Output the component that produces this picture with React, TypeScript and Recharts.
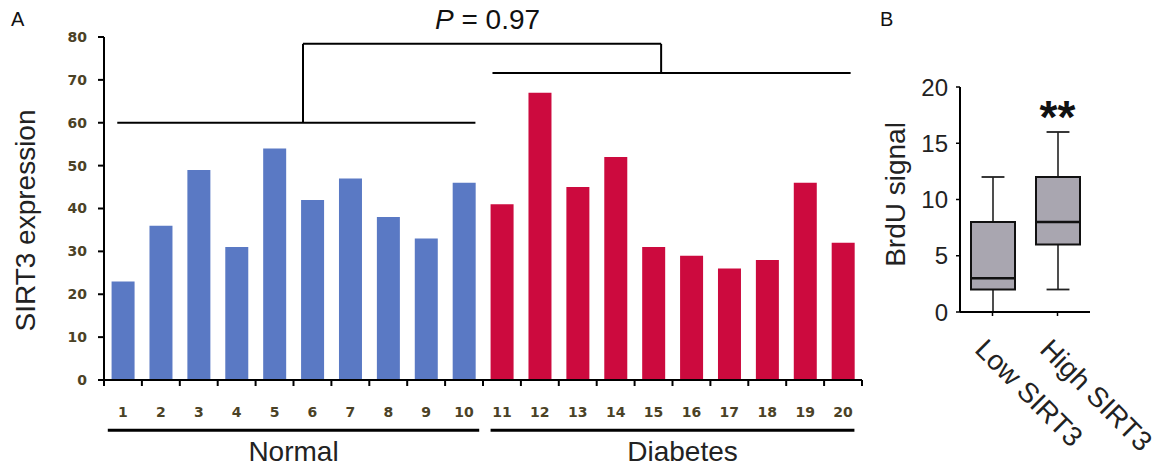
import { BarChart, Bar, XAxis, YAxis, Cell, ReferenceLine, ReferenceDot } from "recharts";

// Panel A: SIRT3 expression per sample
const sampleIds = ["1", "2", "3", "4", "5", "6", "7", "8", "9", "10", "11", "12", "13", "14", "15", "16", "17", "18", "19", "20"];
const normalValues = [23, 36, 49, 31, 54, 42, 47, 38, 33, 46];
const diabetesValues = [41, 67, 45, 52, 31, 29, 26, 28, 46, 32];
const sirt3Ticks = [0, 10, 20, 30, 40, 50, 60, 70, 80];
const sampleEdges = [0, 1, 2, 3, 4, 5, 6, 7, 8, 9, 10, 11, 12, 13, 14, 15, 16, 17, 18, 19, 20];

// bracket + group underline annotations (x in sample units, y in expression units)
const groupBars = [
  { name: "Normal", from: 0.35, to: 9.8, level: 60 },
  { name: "Diabetes", from: 10.25, to: 19.7, level: 71.6 },
];
const pBracket = { left: 5.25, right: 14.7, top: 78.4 };
const groupUnderlines = [
  { name: "Normal", from: 0.1, to: 9.9 },
  { name: "Diabetes", from: 10.2, to: 19.8 },
];
const underlineLevel = -11.7;

// Panel B: BrdU box plot
const brduGroups = ["Low SIRT3", "High SIRT3"];
const brduMin = [0, 2];
const brduQ1 = [2, 6];
const brduMedian = [3, 8];
const brduQ3 = [8, 12];
const brduMax = [12, 16];
const brduTicks = [0, 5, 10, 15, 20];

const BLUE = "#5a79c4";
const RED = "#cc0a3e";
const SANS = "Liberation Sans, Arial, sans-serif";
const TICK_FONT = "DejaVu Sans, Verdana, sans-serif";
const TICK_INK = "#4b4226";

const sirt3Data = sampleIds.map((id, i) => ({
  id,
  value: i < normalValues.length ? normalValues[i] : diabetesValues[i - normalValues.length],
  group: i < normalValues.length ? "Normal" : "Diabetes",
}));

const brduData = brduGroups.map((group, i) => ({
  group,
  range: [brduMin[i], brduMax[i]],
  min: brduMin[i],
  q1: brduQ1[i],
  median: brduMedian[i],
  q3: brduQ3[i],
  max: brduMax[i],
}));

const lineStyle = { stroke: "#000", strokeWidth: 2 };

function NoLabel() {
  return <g />;
}

function BoxShape(props: any) {
  const { x, y, width, height, payload } = props;
  const { min, max, q1, median, q3 } = payload;
  const top = Math.min(y, y + height);
  const span = Math.abs(height);
  const toY = (v: number) => top + (span * (max - v)) / (max - min);
  const cx = x + width / 2;
  const cap = width * 0.26;
  return (
    <g>
      <line x1={cx} x2={cx} y1={toY(max)} y2={toY(q3)} stroke="#222" strokeWidth={1.6} />
      <line x1={cx} x2={cx} y1={toY(q1)} y2={toY(min)} stroke="#222" strokeWidth={1.6} />
      <line x1={cx - cap} x2={cx + cap} y1={toY(max)} y2={toY(max)} stroke="#222" strokeWidth={1.8} />
      <line x1={cx - cap} x2={cx + cap} y1={toY(min)} y2={toY(min)} stroke="#222" strokeWidth={1.8} />
      <rect x={x} y={toY(q3)} width={width} height={toY(q1) - toY(q3)} fill="#a9a6b0" stroke="#111" strokeWidth={2} />
      <line x1={x} x2={x + width} y1={toY(median)} y2={toY(median)} stroke="#111" strokeWidth={2.5} />
    </g>
  );
}

function SlantTick({ x, y, payload }: any) {
  return (
    <g transform={`translate(${x - 19},${y + 33}) rotate(45)`}>
      <text x={0} y={0} textAnchor="start" fontSize={28} fontFamily={SANS} fill="#222">
        {payload.value}
      </text>
    </g>
  );
}

function PanelA() {
  return (
    <BarChart
      width={870}
      height={469}
      data={sirt3Data}
      margin={{ top: 37, right: 8, bottom: 41, left: 24 }}
      barCategoryGap="20%"
    >
      {/* numeric axis: tick marks sit on sample boundaries, also carries the brackets */}
      <XAxis
        xAxisId={0}
        type="number"
        dataKey={(d: any) => Number(d.id)}
        domain={[0, 20]}
        ticks={sampleEdges}
        interval={0}
        allowDataOverflow
        tick={<NoLabel />}
        height={8}
        tickSize={6}
        axisLine={lineStyle}
        tickLine={lineStyle}
      />
      <XAxis
        xAxisId={1}
        dataKey="id"
        interval={0}
        height={40}
        axisLine={false}
        tickLine={false}
        tickMargin={13}
        tick={{ fill: TICK_INK, fontSize: 14, fontWeight: 700, fontFamily: TICK_FONT }}
      />
      <YAxis
        domain={[0, 80]}
        ticks={sirt3Ticks}
        interval={0}
        width={80}
        tickSize={6}
        tickMargin={11}
        axisLine={lineStyle}
        tickLine={lineStyle}
        tick={{ fill: TICK_INK, fontSize: 14, fontWeight: 700, fontFamily: TICK_FONT }}
        label={{
          value: "SIRT3 expression",
          angle: -90,
          position: "insideLeft",
          offset: 1,
          dy: 12,
          style: { textAnchor: "middle", fontSize: 28, fontFamily: SANS, fill: "#222" },
        }}
      />
      <Bar dataKey="value" xAxisId={1} isAnimationActive={false}>
        {sirt3Data.map((d) => (
          <Cell key={d.id} fill={d.group === "Normal" ? BLUE : RED} />
        ))}
      </Bar>
      {groupBars.map((g) => (
        <ReferenceLine
          key={g.name}
          xAxisId={0}
          ifOverflow="visible"
          segment={[{ x: g.from, y: g.level }, { x: g.to, y: g.level }]}
          {...lineStyle}
        />
      ))}
      <ReferenceLine
        xAxisId={0}
        ifOverflow="visible"
        segment={[{ x: pBracket.left, y: groupBars[0].level }, { x: pBracket.left, y: pBracket.top }]}
        {...lineStyle}
      />
      <ReferenceLine
        xAxisId={0}
        ifOverflow="visible"
        segment={[{ x: pBracket.left, y: pBracket.top }, { x: pBracket.right, y: pBracket.top }]}
        {...lineStyle}
      />
      <ReferenceLine
        xAxisId={0}
        ifOverflow="visible"
        segment={[{ x: pBracket.right, y: pBracket.top }, { x: pBracket.right, y: groupBars[1].level }]}
        {...lineStyle}
      />
      {groupUnderlines.map((g) => (
        <ReferenceLine
          key={g.name}
          xAxisId={0}
          ifOverflow="visible"
          segment={[{ x: g.from, y: underlineLevel }, { x: g.to, y: underlineLevel }]}
          stroke="#000"
          strokeWidth={3}
          label={{
            value: g.name,
            position: "bottom",
            offset: 11,
            dx: g.name === "Diabetes" ? 10 : 0,
            fontSize: 28,
            fontFamily: SANS,
            fill: "#222",
          }}
        />
      ))}
    </BarChart>
  );
}

function PanelB() {
  return (
    <BarChart width={298} height={469} data={brduData} margin={{ top: 87, right: 68, bottom: 7, left: 30 }}>
      <XAxis
        dataKey="group"
        interval={0}
        height={150}
        tickSize={4}
        axisLine={lineStyle}
        tickLine={{ stroke: "#000", strokeWidth: 1.5 }}
        tick={<SlantTick />}
      />
      <YAxis
        domain={[0, 20]}
        ticks={brduTicks}
        interval={0}
        width={70}
        tickSize={4}
        tickMargin={8}
        axisLine={lineStyle}
        tickLine={{ stroke: "#000", strokeWidth: 1.5 }}
        tick={{ fill: "#222", fontSize: 24, fontFamily: SANS }}
        label={{
          value: "BrdU signal",
          angle: -90,
          position: "insideLeft",
          offset: 5,
          dy: -5,
          style: { textAnchor: "middle", fontSize: 28, fontFamily: SANS, fill: "#222" },
        }}
      />
      <Bar dataKey="range" barSize={44} shape={BoxShape} isAnimationActive={false} />
      <ReferenceDot
        x="High SIRT3"
        y={17.4}
        r={0}
        fill="none"
        stroke="none"
        label={{ value: "**", position: "center", fontSize: 46, fontWeight: 700, fontFamily: SANS, fill: "#111" }}
      />
    </BarChart>
  );
}

export default function App() {
  return (
    <div style={{ position: "absolute", left: 0, top: 0, width: 1158, height: 469, background: "#fff", fontFamily: SANS }}>
      <div style={{ position: "absolute", left: 0, top: 0 }}>
        <PanelA />
      </div>
      <div style={{ position: "absolute", left: 860, top: 0 }}>
        <PanelB />
      </div>
      <div style={{ position: "absolute", left: 11, top: 9, fontSize: 20, lineHeight: "20px", color: "#111" }}>A</div>
      <div style={{ position: "absolute", left: 880, top: 9, fontSize: 20, lineHeight: "20px", color: "#111" }}>B</div>
      <div style={{ position: "absolute", left: 435, top: 6, fontSize: 28, lineHeight: "28px", color: "#111", whiteSpace: "nowrap" }}>
        <i>P</i> = 0.97
      </div>
    </div>
  );
}
